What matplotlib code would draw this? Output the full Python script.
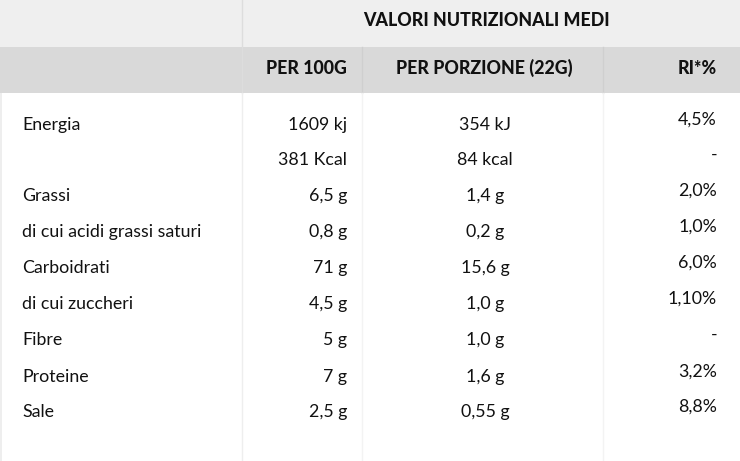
import matplotlib
matplotlib.use("Agg")
import matplotlib.pyplot as plt
from matplotlib.patches import Rectangle

title = "VALORI NUTRIZIONALI MEDI"
headers = ["PER 100G", "PER PORZIONE (22G)", "RI*%"]
labels = ["Energia", "", "Grassi", "di cui acidi grassi saturi", "Carboidrati",
          "di cui zuccheri", "Fibre", "Proteine", "Sale"]
per100 = ["1609 kj", "381 Kcal", "6,5 g", "0,8 g", "71 g", "4,5 g", "5 g", "7 g", "2,5 g"]
perportion = ["354 kJ", "84 kcal", "1,4 g", "0,2 g", "15,6 g", "1,0 g", "1,0 g", "1,6 g", "0,55 g"]
ri = ["4,5%", "-", "2,0%", "1,0%", "6,0%", "1,10%", "-", "3,2%", "8,8%"]
row_y = [125, 160, 196, 232, 268, 304, 340, 377, 412]

W, H = 740, 461
fig = plt.figure(figsize=(7.4, 4.61), dpi=100)
ax = fig.add_axes([0, 0, 1, 1])
ax.set_xlim(0, W); ax.set_ylim(H, 0); ax.axis("off")
fam = ["Lato", "DejaVu Sans"]
fs = 12.8

ax.add_patch(Rectangle((0, 0), W, 47, color="#efefef", lw=0))
ax.add_patch(Rectangle((0, 47), W, 46, color="#d9d9d9", lw=0))
ax.add_patch(Rectangle((0, 93), 2, H - 93, color="#eeeeee", lw=0))
ax.plot([242, 242], [0, 93], color="#dddddd", lw=1)
ax.plot([242, 242], [93, H], color="#eeeeee", lw=1)
for x in (362, 603):
    ax.plot([x, x], [47, 93], color="#cfcfcf", lw=1)
    ax.plot([x, x], [93, H], color="#f3f3f3", lw=1)

hk = dict(va="center", fontsize=fs, fontweight="black", family=fam, color="#111")
ax.text(486, 20, title, ha="center", **hk)
ax.text(347, 68, headers[0], ha="right", **hk)
ax.text(484, 68, headers[1], ha="center", **hk)
ax.text(717, 68, headers[2], ha="right", **hk)

bk = dict(va="center", fontsize=fs, family=fam, color="#111")
for y, l, a, b, c in zip(row_y, labels, per100, perportion, ri):
    ax.text(22, y, l, ha="left", **bk)
    ax.text(347, y, a, ha="right", **bk)
    ax.text(485, y, b, ha="center", **bk)
    ax.text(717, y - 5, c, ha="right", **bk)

fig.savefig("out.png", dpi=100)
